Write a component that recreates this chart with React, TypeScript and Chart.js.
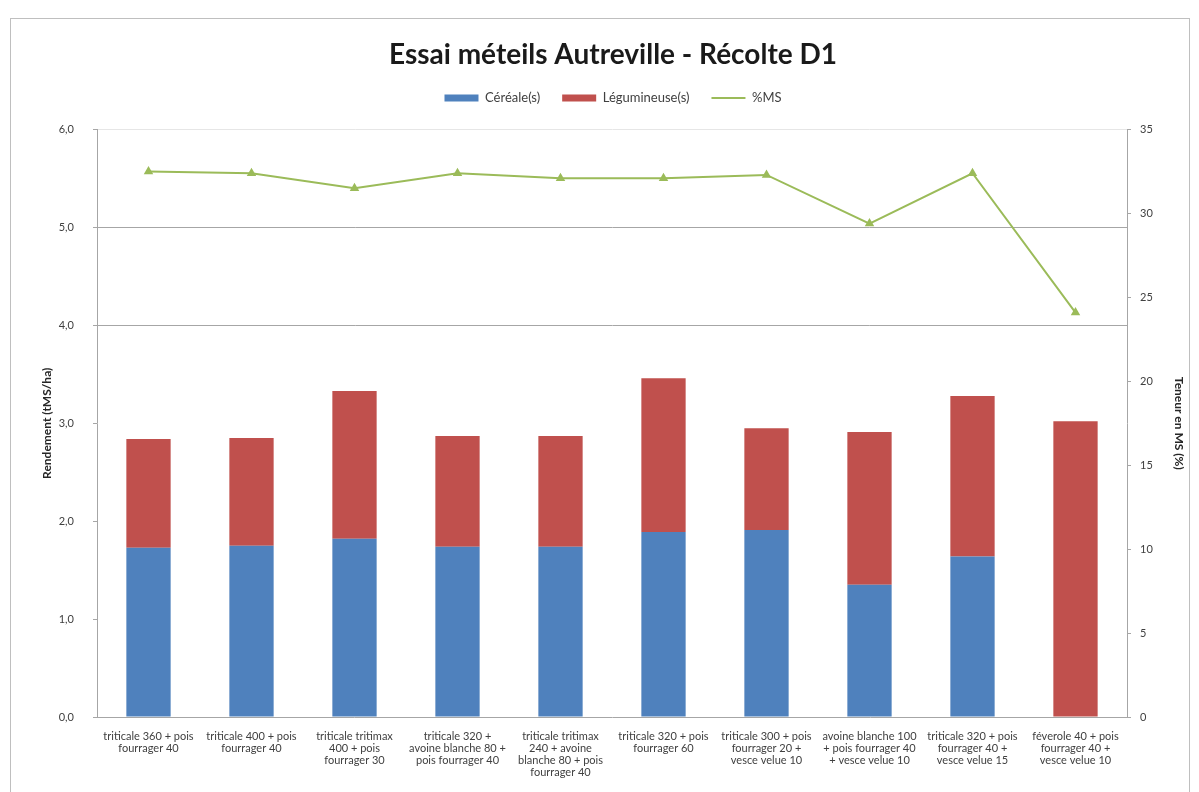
import React, { useEffect, useRef } from "react";
import { Chart, registerables } from "chart.js";

Chart.register(...registerables);

const categories: string[][] = [
  ["triticale 360 + pois", "fourrager 40"],
  ["triticale 400 + pois", "fourrager 40"],
  ["triticale tritimax", "400 + pois", "fourrager 30"],
  ["triticale 320 +", "avoine blanche 80 +", "pois fourrager 40"],
  ["triticale tritimax", "240 + avoine", "blanche 80 + pois", "fourrager 40"],
  ["triticale 320 + pois", "fourrager 60"],
  ["triticale 300 + pois", "fourrager 20 +", "vesce velue 10"],
  ["avoine blanche 100", "+ pois fourrager 40", "+ vesce velue 10"],
  ["triticale 320 + pois", "fourrager 40 +", "vesce velue 15"],
  ["féverole 40 + pois", "fourrager 40 +", "vesce velue 10"],
];

const cereales: number[] = [1.73, 1.75, 1.82, 1.74, 1.74, 1.89, 1.91, 1.35, 1.64, 0];
const legumineuses: number[] = [1.11, 1.1, 1.51, 1.13, 1.13, 1.57, 1.04, 1.56, 1.64, 3.02];
const tauxMS: number[] = [32.5, 32.4, 31.5, 32.4, 32.1, 32.1, 32.3, 29.4, 32.4, 24.1];

const FONT = "Lato, 'Open Sans', sans-serif";

export default function App() {
  const canvasRef = useRef<HTMLCanvasElement | null>(null);

  useEffect(() => {
    if (!canvasRef.current) return;

    // extra space under the legend
    const legendGap = {
      id: "legendGap",
      beforeInit(chart: any) {
        const fitOrig = chart.legend.fit;
        chart.legend.fit = function () {
          fitOrig.bind(chart.legend)();
          this.height += 15;
        };
      },
    };

    const chart = new Chart(canvasRef.current, {
      type: "bar",
      data: {
        labels: categories,
        datasets: [
          {
            type: "line",
            label: "%MS",
            data: tauxMS,
            yAxisID: "y1",
            borderColor: "#9BBB59",
            backgroundColor: "#9BBB59",
            borderWidth: 2,
            pointStyle: "triangle",
            pointRadius: 3.5,
            pointBackgroundColor: "#9BBB59",
            pointBorderColor: "#9BBB59",
            tension: 0,
            order: 0,
          },
          {
            type: "bar",
            label: "Céréale(s)",
            data: cereales,
            yAxisID: "y",
            backgroundColor: "#4F81BD",
            stack: "s",
            barPercentage: 0.43,
            categoryPercentage: 1,
            order: 1,
          },
          {
            type: "bar",
            label: "Légumineuse(s)",
            data: legumineuses,
            yAxisID: "y",
            backgroundColor: "#C0504D",
            stack: "s",
            barPercentage: 0.43,
            categoryPercentage: 1,
            order: 1,
          },
        ],
      },
      options: {
        responsive: false,
        animation: false,
        layout: { padding: { left: 36, right: 9, top: 0, bottom: 0 } },
        plugins: {
          title: {
            display: true,
            text: "Essai méteils Autreville - Récolte D1",
            color: "#1a1a1a",
            font: { family: FONT, size: 28, weight: "bold" },
            padding: { top: 38, bottom: -2 },
          },
          legend: {
            display: true,
            labels: {
              color: "#404040",
              font: { family: FONT, size: 13 },
              usePointStyle: true,
              pointStyleWidth: 34,
              boxHeight: 7,
              padding: 22,
              sort: (a: any, b: any) => a.datasetIndex === 0 ? 1 : b.datasetIndex === 0 ? -1 : a.datasetIndex - b.datasetIndex,
              generateLabels: (ch: any) => {
                const items = Chart.defaults.plugins.legend.labels.generateLabels(ch);
                return items.map((it: any) => ({
                  ...it,
                  pointStyle: it.datasetIndex === 0 ? "line" : "rect",
                  lineWidth: it.datasetIndex === 0 ? 2 : 0,
                  strokeStyle: it.datasetIndex === 0 ? "#9BBB59" : it.strokeStyle,
                }));
              },
            },
          },
          tooltip: { enabled: false },
        },
        scales: {
          x: {
            stacked: true,
            grid: { display: false },
            border: { color: "#a6a6a6" },
            ticks: {
              autoSkip: false,
              maxRotation: 0,
              color: "#404040",
              font: { family: FONT, size: 11, lineHeight: 1.1 },
              padding: 5,
            },
            afterFit(scale: any) {
              scale.height = 75;
            },
          },
          y: {
            type: "linear",
            position: "left",
            stacked: true,
            min: 0,
            max: 6,
            ticks: {
              stepSize: 1,
              color: "#404040",
              font: { family: FONT, size: 11 },
              padding: 19,
              callback: (v: any) => Number(v).toFixed(1).replace(".", ","),
            },
            grid: {
              color: (ctx: any) => {
                const v = ctx.tick ? ctx.tick.value : 0;
                if (v === 4 || v === 5) return "#a6a6a6";
                if (v === 6) return "#e6e6e6";
                return "rgba(0,0,0,0)";
              },
              tickColor: "#a6a6a6",
              tickLength: 4,
            },
            border: { color: "#a6a6a6" },
            title: {
              display: true,
              text: "Rendement (tMS/ha)",
              color: "#262626",
              font: { family: FONT, size: 12, weight: "bold" },
            },
            afterFit(scale: any) {
              scale.width = 61;
            },
          },
          y1: {
            type: "linear",
            position: "right",
            min: 0,
            max: 35,
            ticks: {
              stepSize: 5,
              color: "#404040",
              font: { family: FONT, size: 11 },
              padding: 9,
            },
            grid: { drawOnChartArea: false, tickColor: "#a6a6a6", tickLength: 4 },
            border: { color: "#a6a6a6" },
            title: {
              display: true,
              text: "Teneur en MS (%)",
              color: "#262626",
              font: { family: FONT, size: 12, weight: "bold" },
            },
            afterFit(scale: any) {
              scale.width = 63;
            },
          },
        },
      },
      plugins: [legendGap],
    } as any);

    return () => chart.destroy();
  }, []);

  return (
    <div style={{ position: "fixed", left: 0, top: 0, width: 1199, height: 792, background: "#ffffff" }}>
      <div
        style={{
          position: "absolute",
          left: 10,
          top: 18,
          width: 1180,
          height: 790,
          border: "1px solid #bfbfbf",
          boxSizing: "border-box",
        }}
      />
      <canvas ref={canvasRef} width={1199} height={792} style={{ position: "absolute", left: 0, top: 0 }} />
    </div>
  );
}
